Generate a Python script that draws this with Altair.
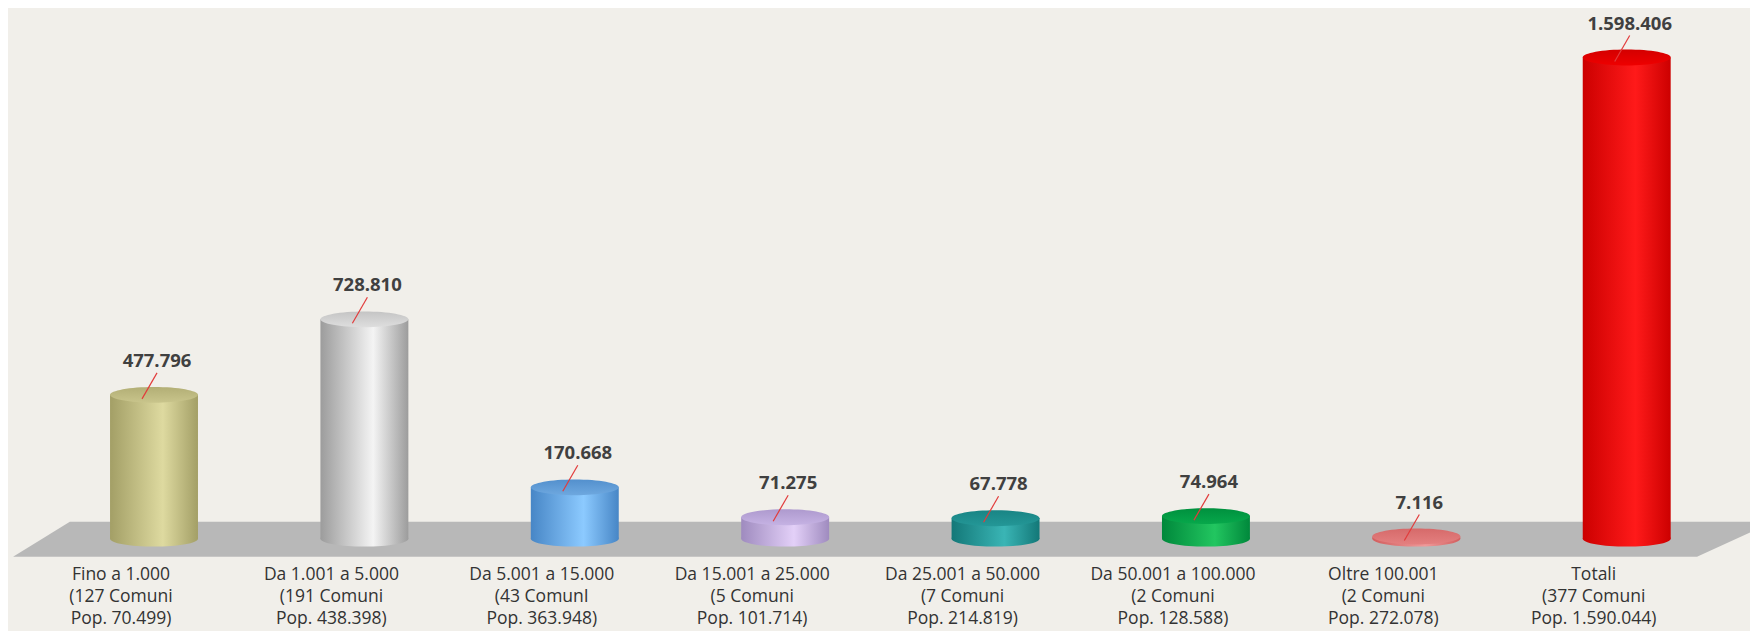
import altair as alt
import pandas as pd

# ---------------- data ----------------
categories = ["Fino a 1.000", "Da 1.001 a 5.000", "Da 5.001 a 15.000", "Da 15.001 a 25.000",
              "Da 25.001 a 50.000", "Da 50.001 a 100.000", "Oltre 100.001", "Totali"]
comuni = ["127 Comuni", "191 Comuni", "43 ComunI", "5 Comuni",
          "7 Comuni", "2 Comuni", "2 Comuni", "377 Comuni"]
popolazione = ["70.499", "438.398", "363.948", "101.714",
               "214.819", "128.588", "272.078", "1.590.044"]
values = [477796, 728810, 170668, 71275, 67778, 74964, 7116, 1598406]
value_labels = ["477.796", "728.810", "170.668", "71.275", "67.778", "74.964", "7.116", "1.598.406"]

# colours per cylinder: (side edge, side highlight, top back, top front)
palette = [
    ("#a39f66", "#dedaa0", "#b2ae75", "#c9c58c"),
    ("#9c9c9c", "#f4f4f4", "#c4c4c4", "#dedede"),
    ("#4786c6", "#8ccaff", "#5390cd", "#6ea8df"),
    ("#9f8bbf", "#e3d0f8", "#ae9ace", "#c5b2e3"),
    ("#137878", "#3ab5b5", "#198585", "#249797"),
    ("#00883b", "#22c660", "#00903e", "#07a84b"),
    ("#d25e5e", "#ef9a9a", "#d66a6a", "#e48080"),
    ("#cc0000", "#ff1a1a", "#d40000", "#ee0000"),
]

df = pd.DataFrame({
    "idx": list(range(len(values))),
    "value": values,
    "vlabel": value_labels,
    "cat": [f"{c}\n({m}\nPop. {p})" for c, m, p in zip(categories, comuni, popolazione)],
})

W, H = 1742, 623
xs = alt.Scale(domain=[-0.694, 7.586], nice=False, zero=False)
ys = alt.Scale(domain=[-306700, 1763000], nice=False, zero=False)
HW = 0.209           # half width of a cylinder in x units
ELL = "M-1,0A1,0.18,0,1,0,1,0A1,0.18,0,1,0,-1,0Z"
ELL_SIZE = 88 * 88

base = alt.Chart(df).transform_calculate(
    xl=f"datum.idx - {HW}", xr=f"datum.idx + {HW}", zero="0"
)

# floor (decorative slab)
floor_df = pd.DataFrame({"fy": [56500, -59800], "fx": [-0.40, -0.670], "fx2": [7.70, 7.334]})
floor = alt.Chart(floor_df).mark_area(orient="horizontal", color="#b8b8b8", clip=True).encode(
    y=alt.Y("fy:Q", scale=ys, axis=None),
    x=alt.X("fx:Q", scale=xs, axis=None),
    x2="fx2:Q",
)

layers = [floor]
for i, (edge, light, tback, tfront) in enumerate(palette):
    sub = base.transform_filter(alt.datum.idx == i)
    side = alt.Gradient(
        gradient="linear",
        stops=[alt.GradientStop(offset=0, color=edge),
               alt.GradientStop(offset=0.6, color=light),
               alt.GradientStop(offset=1, color=edge)],
        x1=0, x2=1, y1=0, y2=0,
    )
    top = alt.Gradient(
        gradient="linear",
        stops=[alt.GradientStop(offset=0, color=tback),
               alt.GradientStop(offset=1, color=tfront)],
        x1=0, x2=0, y1=0, y2=1,
    )
    bottom_e = sub.mark_point(shape=ELL, size=ELL_SIZE, filled=True, fill=side,
                              opacity=1, strokeWidth=0).encode(
        x=alt.X("idx:Q", scale=xs, axis=None),
        y=alt.Y("zero:Q", scale=ys, axis=None),
    )
    body = sub.mark_rect(fill=side, strokeWidth=0).encode(
        x=alt.X("xl:Q", scale=xs, axis=None),
        x2="xr:Q",
        y=alt.Y("value:Q", scale=ys, axis=None),
        y2="zero:Q",
    )
    top_e = sub.mark_point(shape=ELL, size=ELL_SIZE, filled=True, fill=top,
                           opacity=1, strokeWidth=0).encode(
        x=alt.X("idx:Q", scale=xs, axis=None),
        y=alt.Y("value:Q", scale=ys, axis=None),
    )
    layers += [bottom_e, body, top_e]

leaders = base.mark_rule(color="#e23b3b", strokeWidth=1.2, xOffset=-12, yOffset=4,
                         x2Offset=3, y2Offset=-22).encode(
    x=alt.X("idx:Q", scale=xs, axis=None), x2="idx:Q",
    y=alt.Y("value:Q", scale=ys, axis=None), y2="value:Q",
)

vlabels = base.mark_text(font="Open Sans", fontWeight="bold", fontSize=18.5, color="#404040",
                         dx=3, dy=-28, baseline="alphabetic").encode(
    x=alt.X("idx:Q", scale=xs, axis=None),
    y=alt.Y("value:Q", scale=ys, axis=None),
    text="vlabel:N",
)

cats = base.mark_text(font="Open Sans", fontSize=17.5, color="#333333", lineBreak="\n",
                      lineHeight=22, baseline="middle", dx=-33).encode(
    x=alt.X("idx:Q", scale=xs, axis=None),
    y=alt.value(567),
    text="cat:N",
)

layers += [leaders, vlabels, cats]

chart = alt.layer(*layers).properties(
    width=W, height=H, background="#f1efea", padding=0,
    autosize=alt.AutoSizeParams(type="none"),
).configure_view(stroke=None)

chart.save("out.html", embed_options={"renderer": "svg", "actions": False})
